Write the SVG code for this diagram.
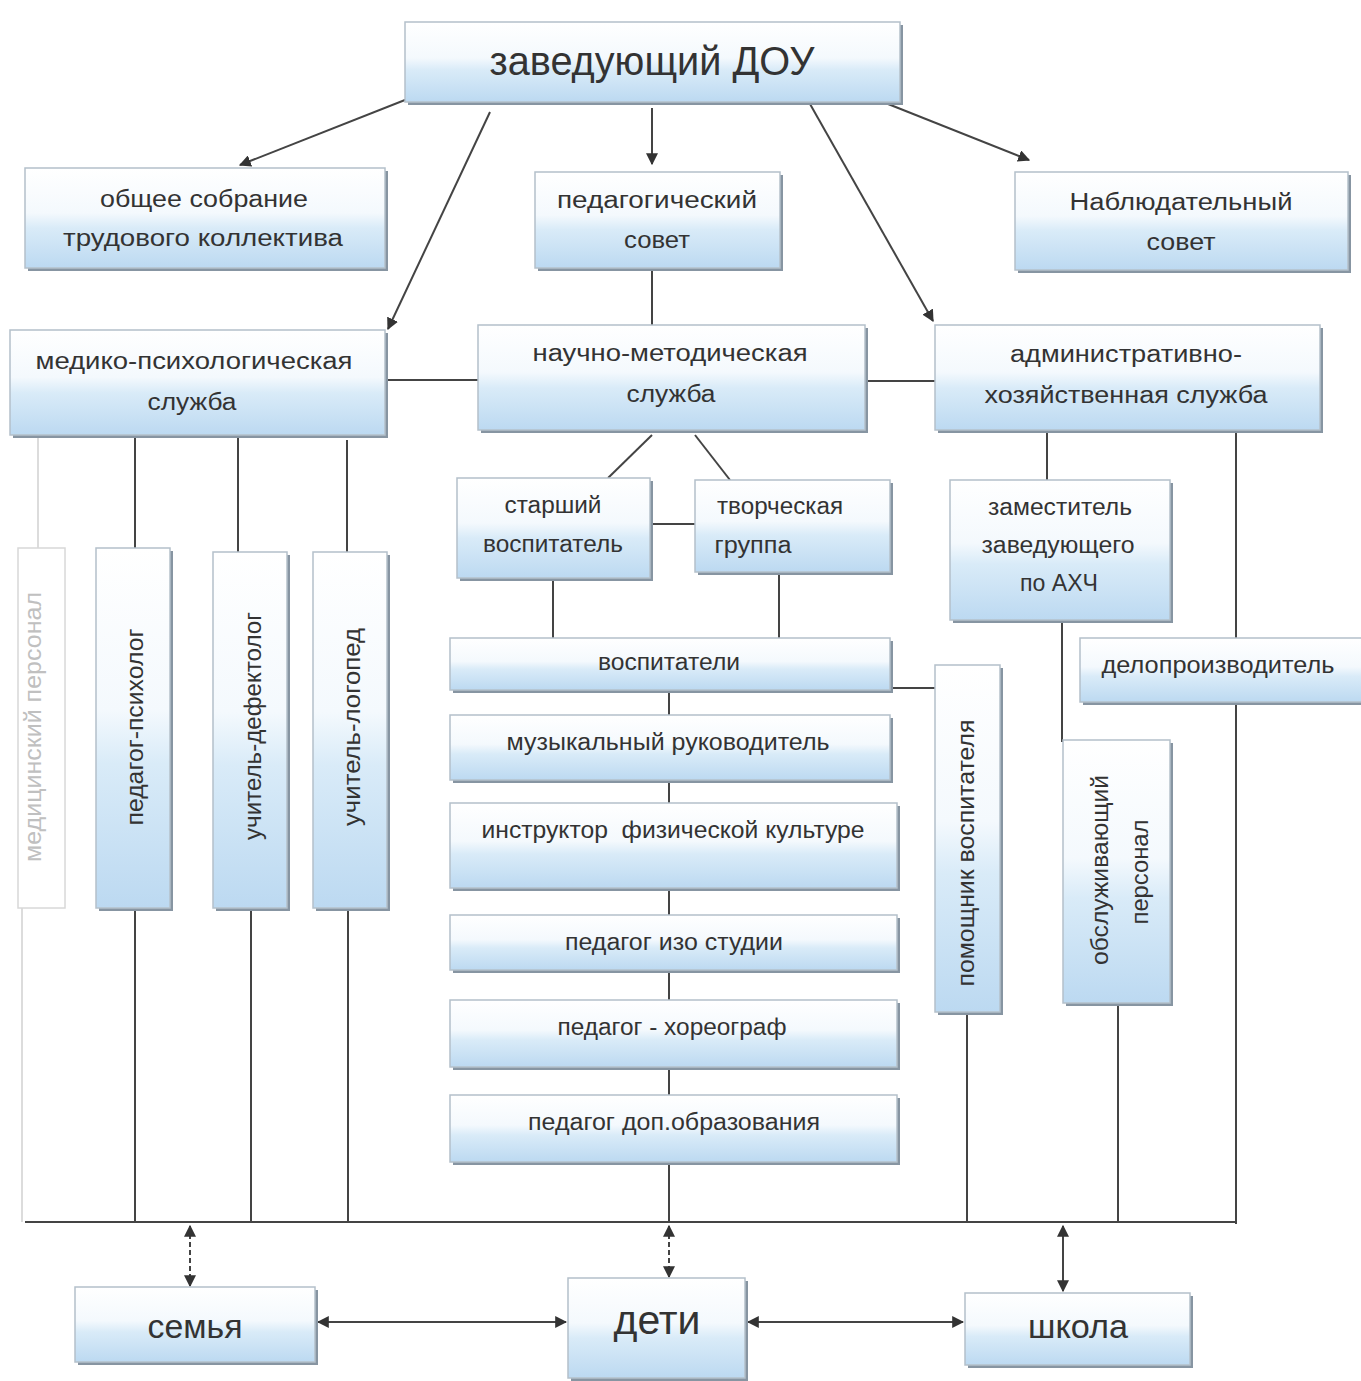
<svg xmlns="http://www.w3.org/2000/svg" width="1361" height="1381" viewBox="0 0 1361 1381">
<defs>
<linearGradient id="g" x1="0" y1="0" x2="0" y2="1">
<stop offset="0" stop-color="#ffffff"/>
<stop offset="0.45" stop-color="#f4f9fd"/>
<stop offset="0.6" stop-color="#d9ebf8"/>
<stop offset="1" stop-color="#bcd9f1"/>
</linearGradient>
<marker id="ahs" viewBox="0 0 10 10" refX="9" refY="5" markerWidth="12" markerHeight="12" orient="auto-start-reverse" markerUnits="userSpaceOnUse">
<path d="M0,0 L10,5 L0,10 Z" fill="#333"/>
</marker>
</defs>
<style>
.box{fill:url(#g);stroke:#b4c0ca;stroke-width:1.5}
.sh{fill:#8795a2}
.t{font-family:"Liberation Sans","Open Sans",sans-serif;fill:#333;font-size:23px;text-anchor:middle}
.big{font-size:40px}
.mid{font-size:33px}
.c{stroke:#444;stroke-width:2;fill:none}
.a{stroke:#444;stroke-width:2;fill:none;marker-end:url(#ahs)}
.d{stroke:#444;stroke-width:2;fill:none;marker-start:url(#ahs);marker-end:url(#ahs)}
.faint{stroke:#d0d0d0;stroke-width:1.5;fill:none}
</style>
<rect width="1361" height="1381" fill="#ffffff"/>

<g id="connectors">
<line class="a" x1="410" y1="98" x2="240" y2="165"/>
<line class="a" x1="490" y1="112" x2="388" y2="329"/>
<line class="a" x1="652" y1="108" x2="652" y2="164"/>
<line class="a" x1="810" y1="104" x2="933" y2="321"/>
<line class="a" x1="878" y1="100" x2="1029" y2="160"/>
<line class="c" x1="652" y1="270" x2="652" y2="325"/>
<line class="c" x1="385" y1="380" x2="478" y2="380"/>
<line class="c" x1="865" y1="381" x2="935" y2="381"/>
<line class="c" x1="652" y1="435" x2="608" y2="478"/>
<line class="c" x1="695" y1="435" x2="730" y2="480"/>
<line class="c" x1="650" y1="524" x2="695" y2="524"/>
<line class="c" x1="553" y1="578" x2="553" y2="638"/>
<line class="c" x1="779" y1="572" x2="779" y2="638"/>
<line class="c" x1="669" y1="690" x2="669" y2="1222"/>
<line class="c" x1="890" y1="688" x2="935" y2="688"/>
<line class="c" x1="1047" y1="433" x2="1047" y2="480"/>
<line class="c" x1="1236" y1="433" x2="1236" y2="1224"/>
<line class="c" x1="1062" y1="620" x2="1062" y2="742"/>
<line class="c" x1="967" y1="1012" x2="967" y2="1222"/>
<line class="c" x1="1118" y1="1003" x2="1118" y2="1222"/>
<line class="faint" x1="38" y1="435" x2="38" y2="548"/>
<line class="c" x1="135" y1="435" x2="135" y2="548"/>
<line class="c" x1="238" y1="435" x2="238" y2="552"/>
<line class="c" x1="347" y1="440" x2="347" y2="552"/>
<line class="faint" x1="22" y1="908" x2="22" y2="1222"/>
<line class="c" x1="135" y1="908" x2="135" y2="1222"/>
<line class="c" x1="251" y1="908" x2="251" y2="1222"/>
<line class="c" x1="348" y1="908" x2="348" y2="1222"/>
<line class="c" x1="25" y1="1222" x2="1237" y2="1222"/>
<line class="d" x1="190" y1="1226" x2="190" y2="1286" stroke-dasharray="5 3"/>
<line class="d" x1="669" y1="1226" x2="669" y2="1277" stroke-dasharray="5 3"/>
<line class="d" x1="1063" y1="1226" x2="1063" y2="1291"/>
<line class="d" x1="318" y1="1322" x2="566" y2="1322"/>
<line class="d" x1="748" y1="1322" x2="963" y2="1322"/>
</g>

<g id="n-zav">
<rect class="sh" x="408" y="25" width="495" height="80"/>
<rect class="box" x="405" y="22" width="495" height="80"/>
<text class="t big" x="652" y="75" textLength="325" lengthAdjust="spacingAndGlyphs">заведующий ДОУ</text>
</g>
<g id="n-sobranie">
<rect class="sh" x="28" y="171" width="360" height="100"/>
<rect class="box" x="25" y="168" width="360" height="100"/>
<text class="t" x="204" y="207" textLength="208" lengthAdjust="spacingAndGlyphs">общее собрание</text>
<text class="t" x="203" y="246" textLength="280" lengthAdjust="spacingAndGlyphs">трудового коллектива</text>
</g>
<g id="n-pedsovet">
<rect class="sh" x="538" y="175" width="245" height="96"/>
<rect class="box" x="535" y="172" width="245" height="96"/>
<text class="t" x="657" y="208" textLength="200" lengthAdjust="spacingAndGlyphs">педагогический</text>
<text class="t" x="657" y="248" textLength="66" lengthAdjust="spacingAndGlyphs">совет</text>
</g>
<g id="n-nabl">
<rect class="sh" x="1018" y="175" width="333" height="98"/>
<rect class="box" x="1015" y="172" width="333" height="98"/>
<text class="t" x="1181" y="210" textLength="223" lengthAdjust="spacingAndGlyphs">Наблюдательный</text>
<text class="t" x="1181" y="250" textLength="69" lengthAdjust="spacingAndGlyphs">совет</text>
</g>
<g id="n-mediko">
<rect class="sh" x="13" y="333" width="375" height="105"/>
<rect class="box" x="10" y="330" width="375" height="105"/>
<text class="t" x="194" y="369" textLength="317" lengthAdjust="spacingAndGlyphs">медико-психологическая</text>
<text class="t" x="192" y="410" textLength="89" lengthAdjust="spacingAndGlyphs">служба</text>
</g>
<g id="n-nauchno">
<rect class="sh" x="481" y="328" width="387" height="105"/>
<rect class="box" x="478" y="325" width="387" height="105"/>
<text class="t" x="670" y="361" textLength="275" lengthAdjust="spacingAndGlyphs">научно-методическая</text>
<text class="t" x="671" y="402" textLength="89" lengthAdjust="spacingAndGlyphs">служба</text>
</g>
<g id="n-admin">
<rect class="sh" x="938" y="328" width="385" height="105"/>
<rect class="box" x="935" y="325" width="385" height="105"/>
<text class="t" x="1126" y="362" textLength="232" lengthAdjust="spacingAndGlyphs">административно-</text>
<text class="t" x="1126" y="403" textLength="283" lengthAdjust="spacingAndGlyphs">хозяйственная служба</text>
</g>
<g id="n-starshiy">
<rect class="sh" x="460" y="481" width="193" height="100"/>
<rect class="box" x="457" y="478" width="193" height="100"/>
<text class="t" x="553" y="513" textLength="97" lengthAdjust="spacingAndGlyphs">старший</text>
<text class="t" x="553" y="552" textLength="140" lengthAdjust="spacingAndGlyphs">воспитатель</text>
</g>
<g id="n-tvorch">
<rect class="sh" x="698" y="483" width="195" height="92"/>
<rect class="box" x="695" y="480" width="195" height="92"/>
<text class="t" x="780" y="514" textLength="126" lengthAdjust="spacingAndGlyphs">творческая</text>
<text class="t" x="753" y="553" textLength="77" lengthAdjust="spacingAndGlyphs">группа</text>
</g>
<g id="n-zam">
<rect class="sh" x="953" y="483" width="220" height="140"/>
<rect class="box" x="950" y="480" width="220" height="140"/>
<text class="t" x="1060" y="515" textLength="144" lengthAdjust="spacingAndGlyphs">заместитель</text>
<text class="t" x="1058" y="553" textLength="153" lengthAdjust="spacingAndGlyphs">заведующего</text>
<text class="t" x="1059" y="591" textLength="78" lengthAdjust="spacingAndGlyphs">по АХЧ</text>
</g>
<g id="n-delo">
<rect class="sh" x="1083" y="641" width="281" height="64"/>
<rect class="box" x="1080" y="638" width="285" height="64"/>
<text class="t" x="1218" y="673" textLength="233" lengthAdjust="spacingAndGlyphs">делопроизводитель</text>
</g>
<g id="n-vosp">
<rect class="sh" x="453" y="641" width="440" height="52"/>
<rect class="box" x="450" y="638" width="440" height="52"/>
<text class="t" x="669" y="670" textLength="142" lengthAdjust="spacingAndGlyphs">воспитатели</text>
</g>
<g id="n-muz">
<rect class="sh" x="453" y="718" width="440" height="65"/>
<rect class="box" x="450" y="715" width="440" height="65"/>
<text class="t" x="668" y="750" textLength="323" lengthAdjust="spacingAndGlyphs">музыкальный руководитель</text>
</g>
<g id="n-instr">
<rect class="sh" x="453" y="806" width="447" height="85"/>
<rect class="box" x="450" y="803" width="447" height="85"/>
<text class="t" x="673" y="838" textLength="383" lengthAdjust="spacingAndGlyphs" xml:space="preserve">инструктор  физической культуре</text>
</g>
<g id="n-izo">
<rect class="sh" x="453" y="918" width="447" height="55"/>
<rect class="box" x="450" y="915" width="447" height="55"/>
<text class="t" x="674" y="950" textLength="218" lengthAdjust="spacingAndGlyphs">педагог изо студии</text>
</g>
<g id="n-horeo">
<rect class="sh" x="453" y="1003" width="447" height="67"/>
<rect class="box" x="450" y="1000" width="447" height="67"/>
<text class="t" x="672" y="1035" textLength="229" lengthAdjust="spacingAndGlyphs">педагог - хореограф</text>
</g>
<g id="n-dop">
<rect class="sh" x="453" y="1098" width="447" height="67"/>
<rect class="box" x="450" y="1095" width="447" height="67"/>
<text class="t" x="674" y="1130" textLength="292" lengthAdjust="spacingAndGlyphs">педагог доп.образования</text>
</g>
<g id="n-pomosh">
<rect class="sh" x="938" y="668" width="65" height="347"/>
<rect class="box" x="935" y="665" width="65" height="347"/>
<text class="t" transform="translate(974,853) rotate(-90)" textLength="267" lengthAdjust="spacingAndGlyphs">помощник воспитателя</text>
</g>
<g id="n-obsl">
<rect class="sh" x="1066" y="743" width="107" height="263"/>
<rect class="box" x="1063" y="740" width="107" height="263"/>
<text class="t" transform="translate(1108,870) rotate(-90)" textLength="190" lengthAdjust="spacingAndGlyphs">обслуживающий</text>
<text class="t" transform="translate(1148,872) rotate(-90)" textLength="105" lengthAdjust="spacingAndGlyphs">персонал</text>
</g>
<g id="n-med">
<rect x="18" y="548" width="47" height="360" fill="#ffffff" stroke="#d8d8d8" stroke-width="1.5"/>
<text class="t" transform="translate(41,727) rotate(-90)" style="fill:#c0c0c0" textLength="270" lengthAdjust="spacingAndGlyphs">медицинский персонал</text>
</g>
<g id="n-psih">
<rect class="sh" x="99" y="551" width="74" height="360"/>
<rect class="box" x="96" y="548" width="74" height="360"/>
<text class="t" transform="translate(143,727) rotate(-90)" textLength="197" lengthAdjust="spacingAndGlyphs">педагог-психолог</text>
</g>
<g id="n-defekt">
<rect class="sh" x="216" y="555" width="74" height="356"/>
<rect class="box" x="213" y="552" width="74" height="356"/>
<text class="t" transform="translate(261,726) rotate(-90)" textLength="228" lengthAdjust="spacingAndGlyphs">учитель-дефектолог</text>
</g>
<g id="n-logoped">
<rect class="sh" x="316" y="555" width="74" height="356"/>
<rect class="box" x="313" y="552" width="74" height="356"/>
<text class="t" transform="translate(360,727) rotate(-90)" textLength="198" lengthAdjust="spacingAndGlyphs">учитель-логопед</text>
</g>
<g id="n-semya">
<rect class="sh" x="78" y="1290" width="240" height="75"/>
<rect class="box" x="75" y="1287" width="240" height="75"/>
<text class="t mid" x="195" y="1338" textLength="95" lengthAdjust="spacingAndGlyphs">семья</text>
</g>
<g id="n-deti">
<rect class="sh" x="571" y="1281" width="177" height="100"/>
<rect class="box" x="568" y="1278" width="177" height="100"/>
<text class="t big" x="657" y="1334" textLength="87" lengthAdjust="spacingAndGlyphs">дети</text>
</g>
<g id="n-shkola">
<rect class="sh" x="968" y="1296" width="225" height="72"/>
<rect class="box" x="965" y="1293" width="225" height="72"/>
<text class="t mid" x="1078" y="1338" textLength="100" lengthAdjust="spacingAndGlyphs">школа</text>
</g>
</svg>
